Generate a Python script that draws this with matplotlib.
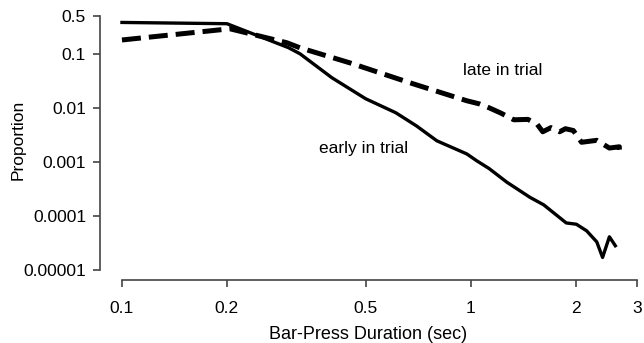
import matplotlib.pyplot as plt
from matplotlib.ticker import FixedLocator, NullLocator

plt.rcParams['font.family'] = ['Liberation Sans', 'DejaVu Sans']

# early in trial (solid)
early_x = [0.1, 0.2, 0.30, 0.324, 0.40, 0.50, 0.61, 0.70, 0.80, 0.975, 1.04, 1.13,
           1.27, 1.48, 1.62, 1.88, 2.01, 2.15, 2.30, 2.39, 2.50, 2.60]
early_y = [0.38, 0.36, 0.13, 0.10, 0.036, 0.0147, 0.0081, 0.0046, 0.00245, 0.0014,
           0.00105, 0.00075, 0.00042, 0.00022, 0.00016, 7.4e-5, 7.0e-5, 5.3e-5,
           3.3e-5, 1.7e-5, 4.1e-5, 2.8e-5]

# late in trial (dashed)
late_x = [0.1, 0.204, 0.297, 0.324, 0.45, 0.67, 0.975, 1.06, 1.13, 1.22, 1.33,
          1.46, 1.55, 1.61, 1.70, 1.80, 1.87, 1.97, 2.08, 2.30, 2.50, 2.67, 2.67]
late_y = [0.18, 0.29, 0.16, 0.129, 0.068, 0.029, 0.0135, 0.0118, 0.0100, 0.0080,
          0.0060, 0.0061, 0.0050, 0.0036, 0.0043, 0.0036, 0.0041, 0.0038, 0.0023,
          0.0025, 0.0018, 0.0019, 0.0016]

x_ticks = [0.1, 0.2, 0.5, 1, 2, 3]
x_labels = ['0.1', '0.2', '0.5', '1', '2', '3']
y_ticks = [0.00001, 0.0001, 0.001, 0.01, 0.1, 0.5]
y_labels = ['0.00001', '0.0001', '0.001', '0.01', '0.1', '0.5']

fig = plt.figure(figsize=(6.44, 3.43), dpi=100)
ax = fig.add_axes([100 / 644, 1 - 280 / 343, 537 / 644, 264 / 343])

ax.plot(early_x, early_y, color='black', linewidth=2.4, solid_joinstyle='round')
ax.plot(late_x, late_y, color='black', linewidth=3.6, linestyle=(0, (3.8, 1.6)))

ax.set_xscale('log')
ax.set_yscale('log')
ax.set_xlim(0.0865, 3.0)
ax.set_ylim(6.5e-6, 0.5)

ax.xaxis.set_major_locator(FixedLocator(x_ticks))
ax.xaxis.set_minor_locator(NullLocator())
ax.set_xticklabels(x_labels)
ax.yaxis.set_major_locator(FixedLocator(y_ticks))
ax.yaxis.set_minor_locator(NullLocator())
ax.set_yticklabels(y_labels)

for s in ['top', 'right']:
    ax.spines[s].set_visible(False)
ax.spines['left'].set_bounds(0.00001, 0.5)
ax.spines['bottom'].set_bounds(0.1, 3.0)
for s in ['left', 'bottom']:
    ax.spines[s].set_color('#444444')
    ax.spines[s].set_linewidth(1.2)

ax.tick_params(axis='both', labelsize=12.5, length=5, width=1.2, color='#444444')
ax.tick_params(axis='x', pad=10)
ax.tick_params(axis='y', pad=5)

ax.set_xlabel('Bar-Press Duration (sec)', fontsize=13, labelpad=7)
ax.set_ylabel('Proportion', fontsize=12.5, va='center')
ax.yaxis.set_label_coords(-0.152, 0.53)

ax.text(1.236, 0.048, 'late in trial', fontsize=12.5, ha='center', va='center')
ax.text(0.494, 0.00174, 'early in trial', fontsize=12.5, ha='center', va='center')

fig.savefig('out.png', dpi=100)
